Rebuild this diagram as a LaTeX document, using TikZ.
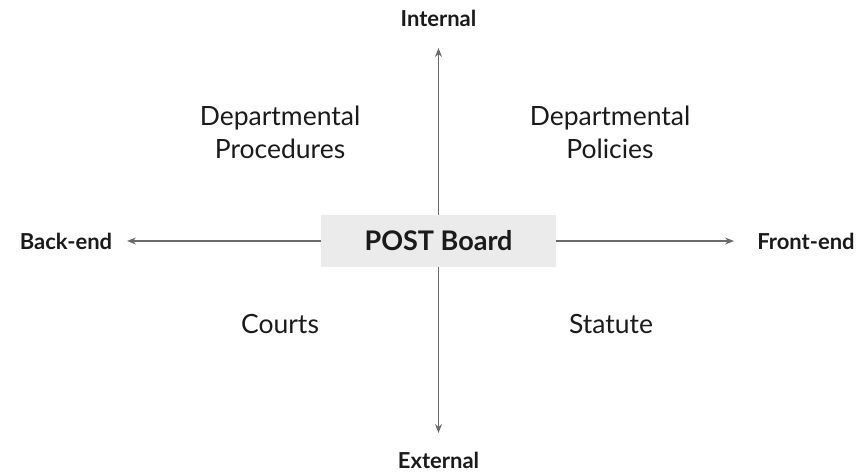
\documentclass[tikz,border=0pt]{standalone}
\usepackage{fontspec}
\setmainfont{Lato}
\usetikzlibrary{arrows.meta}
\definecolor{axis}{HTML}{6A6A6A}
\definecolor{boxfill}{HTML}{EBEBEB}
\definecolor{txt}{HTML}{1A1A1A}
\tikzset{
  axisline/.style={draw=axis, line width=1.4pt, -{Stealth[length=9pt,width=7pt,inset=3pt]}},
  dirlabel/.style={font=\fontsize{22}{25}\selectfont\bfseries, text=txt, inner sep=0pt},
  quad/.style={font=\fontsize{26.5}{33}\selectfont, text=txt, align=center, inner sep=0pt},
  centerbox/.style={fill=boxfill, minimum width=235pt, minimum height=52pt, inner sep=0pt, font=\fontsize{27}{30}\selectfont\bfseries, text=txt}
}
\begin{document}
\begin{tikzpicture}[x=1pt,y=-1pt]
\useasboundingbox (0,0) rectangle (864,474);
\node[centerbox] (c) at (438.5,241) {POST Board};
\coordinate (tup) at (438.5,48);
\coordinate (tdn) at (438.5,433);
\coordinate (tl) at (127,241);
\coordinate (tr) at (734,241);
\node[dirlabel] (int) at (438.5,18) {Internal};
\node[dirlabel] (ext) at (438.5,460) {External};
\node[dirlabel] (be) at (66,241) {Back-end};
\node[dirlabel] (fe) at (806,241) {Front-end};
\draw[axisline] (c.north) -- (tup);
\draw[axisline] (c.south) -- (tdn);
\draw[axisline] (c.west) -- (tl);
\draw[axisline] (c.east) -- (tr);
\node[quad] (dp) at (280,132) {Departmental\\Procedures};
\node[quad] (dpol) at (610,132) {Departmental\\Policies};
\node[quad] (courts) at (280,324) {Courts};
\node[quad] (stat) at (611,324) {Statute};
\end{tikzpicture}
\end{document}
